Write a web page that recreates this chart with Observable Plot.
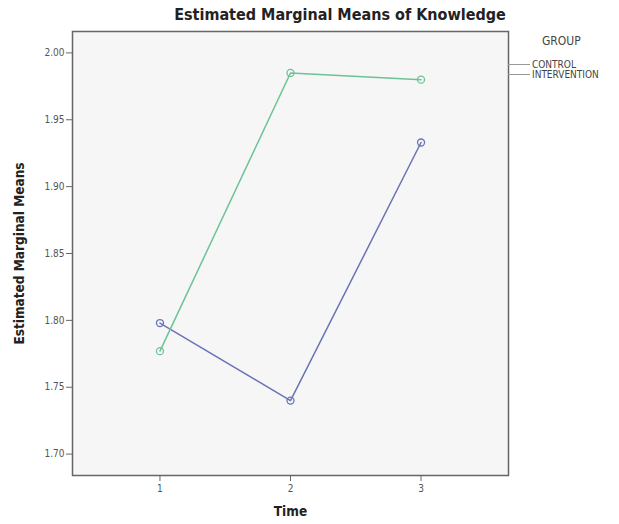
<!DOCTYPE html>
<html>
<head>
<meta charset="utf-8">
<script src="https://cdn.jsdelivr.net/npm/d3@7"></script>
<script src="https://cdn.jsdelivr.net/npm/@observablehq/plot@0.6"></script>
<style>
  body { margin: 0; background: #fff; }
  #wrap { position: relative; width: 619px; height: 524px; font-family: "DejaVu Sans", sans-serif; overflow: hidden; }
  #title { position: absolute; left: 0; width: 680px; top: 5px; text-align: center; font-family: "DejaVu Sans Condensed", "DejaVu Sans", sans-serif; font-weight: bold; font-size: 16px; color: #222; }
  #legend { position: absolute; left: 508px; top: 34px; font-family: "DejaVu Sans Condensed", "DejaVu Sans", sans-serif; color: #444; }
  #legend .head { position: absolute; left: 34px; top: 0px; font-size: 12px; white-space: nowrap; }
  #legend .item { position: absolute; left: 0; font-size: 10px; white-space: nowrap; display: flex; align-items: center; }
  #legend .item span.sw { display: inline-block; width: 22px; height: 0; border-top: 1.2px solid #999; margin-right: 2px; }
</style>
</head>
<body>
<div id="wrap">
  <div id="title">Estimated Marginal Means of Knowledge</div>
  <div id="chart"></div>
  <div id="legend"></div>
</div>
<script>
const times = [1, 2, 3];
const groups = ["CONTROL", "INTERVENTION"];
const controlMeans = [1.798, 1.740, 1.933];
const interventionMeans = [1.777, 1.985, 1.980];
const yTicks = [1.70, 1.75, 1.80, 1.85, 1.90, 1.95, 2.00];
const groupColors = ["#6a74b4", "#6cc394"];
const legendTitle = "GROUP";

const data = [];
times.forEach((t, i) => data.push({time: t, mean: controlMeans[i], group: groups[0]}));
times.forEach((t, i) => data.push({time: t, mean: interventionMeans[i], group: groups[1]}));

const chart = Plot.plot({
  width: 619,
  height: 524,
  marginLeft: 72,
  marginRight: 111,
  marginTop: 31,
  marginBottom: 49,
  style: { fontFamily: "DejaVu Sans Condensed, DejaVu Sans, sans-serif", fontSize: "10px", color: "#555", background: "transparent" },
  x: { domain: [0.33, 3.67], ticks: times, tickFormat: d3.format("d"), label: null, tickSize: 6, tickPadding: 3 },
  y: { domain: [1.684, 2.016], ticks: yTicks, tickFormat: d3.format(".2f"), label: null, tickSize: 6, tickPadding: 2 },
  color: { domain: groups, range: groupColors },
  marks: [
    Plot.frame({ fill: "#f6f6f6", stroke: "none" }),
    Plot.line(data, { x: "time", y: "mean", z: "group", stroke: "group", strokeWidth: 1.5 }),
    Plot.dot(data, { x: "time", y: "mean", stroke: "group", r: 3.5, strokeWidth: 1.3, fill: "none" }),
    Plot.frame({ stroke: "#666", strokeWidth: 1.5 }),
    Plot.axisX({ ticks: times, tickFormat: d3.format("d"), label: "Time", labelAnchor: "center", labelArrow: "none", labelOffset: 40, tickSize: 6, tickPadding: 3, stroke: "#666", fill: "#555" }),
    Plot.axisY({ ticks: yTicks, tickFormat: d3.format(".2f"), label: "Estimated Marginal Means", labelAnchor: "center", labelArrow: "none", labelOffset: 58, tickSize: 6, tickPadding: 2, stroke: "#666", fill: "#555" })
  ]
});
document.getElementById("chart").appendChild(chart);

d3.select(chart).selectAll("[aria-label='x-axis label'] text, [aria-label='y-axis label'] text")
  .attr("font-weight", "bold").attr("font-size", "13.5px").attr("fill", "#222");

const legend = document.getElementById("legend");
const head = document.createElement("div");
head.className = "head";
head.textContent = legendTitle;
legend.appendChild(head);
groups.forEach((g, i) => {
  const it = document.createElement("div");
  it.className = "item";
  it.style.top = (25 + i * 10) + "px";
  const sw = document.createElement("span");
  sw.className = "sw";
  it.appendChild(sw);
  it.appendChild(document.createTextNode(g));
  legend.appendChild(it);
});
</script>
</body>
</html>
